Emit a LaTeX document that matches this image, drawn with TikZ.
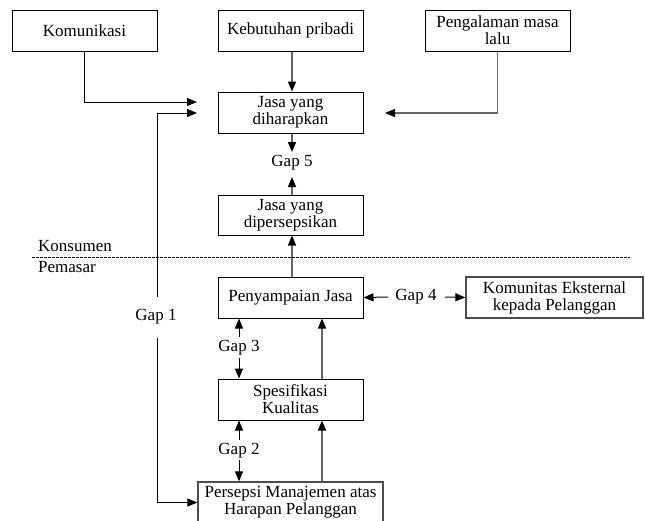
\documentclass[tikz,border=0pt]{standalone}
\usepackage{fontspec}
\setmainfont{Liberation Serif}
\usetikzlibrary{arrows.meta,calc}
\begin{document}
\begin{tikzpicture}[x=1pt,y=-1pt,
  every node/.style={font=\fontsize{17}{20}\selectfont},
  box/.style={draw=black,line width=1pt,rectangle,inner sep=0pt,align=center,
    minimum width=145pt,minimum height=41pt},
  lbl/.style={inner sep=1pt},
  arr/.style={line width=1pt,-{Triangle[length=10pt,width=8pt,color=black]}},
  gline/.style={draw=black!60,line width=1.4pt},
  ln/.style={line width=1pt}]
\useasboundingbox (0,0) rectangle (645,520);
% boxes
\node[box] (kom) at (84.5,30.5) {Komunikasi};
\node[box] (keb) at (290.5,30.5) {Kebutuhan pribadi};
\node[box] (pen) at (497.5,30.5) {Pengalaman masa\\[-3pt]lalu};
\node[box] (jdh) at (290.5,112.5) {Jasa yang\\[-3pt]diharapkan};
\node[box,minimum height=40pt] (jdp) at (290.5,215) {Jasa yang\\[-3pt]dipersepsikan};
\node[box] (pjs) at (290.5,297.5) {Penyampaian Jasa};
\node[box,draw=black!70,line width=1.3pt,minimum width=177pt] (kek) at (554.5,297.5) {Komunitas Eksternal\\[-3pt]kepada Pelanggan};
\node[box] (spk) at (290.5,399.5) {Spesifikasi\\[-3pt]Kualitas};
\node[box,draw=black!70,line width=1.3pt,minimum width=185pt] (pmj) at (290.5,502.5) {Persepsi Manajemen atas\\[-3pt]Harapan Pelanggan};
% labels
\node[lbl] (g1) at (156,317) {Gap 1};
\node[lbl] (g5) at (292,163) {Gap 5};
\node[lbl] (g4) at (416,297) {Gap 4};
\node[lbl] (g3) at (239,348) {Gap 3};
\node[lbl] (g2) at (239,451) {Gap 2};
\node[lbl,anchor=west] (kon) at (37,246) {Konsumen};
\node[lbl,anchor=west] (pem) at (37,267) {Pemasar};
% free ends
\coordinate (t1) at (197,102);
\coordinate (t2) at (197,113);
\coordinate (t3) at (385,113);
\coordinate (t5a) at (292,152);
\coordinate (t5b) at (292,177);
\coordinate (d1) at (32,257);
\coordinate (d2) at (630,257);
% connectors
\draw[arr] (kom.south) |- (t1);
\draw[arr] (157,297) |- (t2);
\draw[arr] (157,338) |- (pmj.west);
\draw[arr,gline] (keb.south -| 292,0) -- (jdh.north -| 292,0);
\draw[arr,gline] (pen.south) |- (t3);
\draw[arr,gline] (jdh.south -| 292,0) -- (t5a);
\draw[arr,gline] (jdp.north -| 292,0) -- (t5b);
\draw[arr,gline] (pjs.north -| 292,0) -- (jdp.south -| 292,0);
\draw[arr] (388,297) -- (pjs.east);
\draw[arr] (445,297) -- (kek.west);
\draw[arr] (239,337) -- (pjs.south -| 239,0);
\draw[arr] (239,358) -- (spk.north -| 239,0);
\draw[arr,gline] (spk.north -| 322,0) -- (pjs.south -| 322,0);
\draw[arr] (239,440) -- (spk.south -| 239,0);
\draw[arr] (239,460) -- (pmj.north -| 239,0);
\draw[arr,gline] (pmj.north -| 322,0) -- (spk.south -| 322,0);
\draw[line width=0.7pt,dash pattern=on 2.5pt off 1.5pt] (d1) -- (d2);
\end{tikzpicture}
\end{document}
